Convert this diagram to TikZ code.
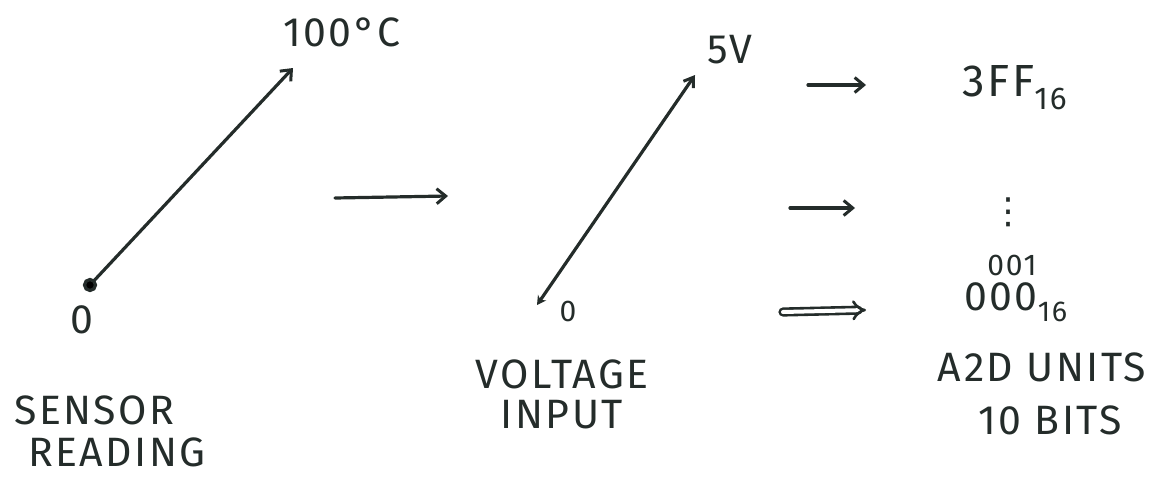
\documentclass[tikz,border=0pt]{standalone}
\usepackage{fontspec}
\setmainfont[LetterSpace=6]{Fira Sans}
\newfontfamily\symfont{DejaVu Sans}
\usetikzlibrary{arrows.meta}
\definecolor{ink}{RGB}{36,44,42}
\begin{document}
\begin{tikzpicture}[x=1pt,y=-1pt,
  ink/.style={draw=ink,line width=3.2pt,line cap=round},
  lbl/.style={text=ink,inner sep=0pt,font=\fontsize{41}{44}\selectfont},
  big/.style={text=ink,inner sep=0pt,font=\fontsize{45}{48}\selectfont},
  small/.style={text=ink,inner sep=0pt,font=\fontsize{30}{32}\selectfont},
  arr/.style={ink,-{Straight Barb[length=9pt,width=15pt,line width=3pt]}}]
\useasboundingbox (0,0) rectangle (1162,477);
% sensor scale
\coordinate (s0) at (90,285);
\coordinate (s1) at (293,68);
\draw[arr] (s0) -- (s1);
\fill[ink] (s0) circle (5.5pt);
\node[lbl] (t100) at (342,32) {100°C};
\node[lbl] (z1) at (82,320) {0};
\node[lbl,anchor=west] (sens1) at (14,410) {SENSOR};
\node[lbl,anchor=west] (sens2) at (28,452) {READING};
% arrow 1
\coordinate (a1s) at (335,198);
\coordinate (a1e) at (448,196);
\draw[arr] (a1s) -- (a1e);
% voltage scale
\coordinate (v0) at (537,305);
\coordinate (v1) at (695,75);
\draw[ink,{Stealth[length=9pt,width=10pt]}-{Straight Barb[length=9pt,width=12pt,line width=3pt]}] (v0) -- (v1);
\node[lbl] (v5) at (730,50) {5V};
\node[small] (z2) at (568,311) {0};
\node[lbl] (volt1) at (562,374) {VOLTAGE};
\node[lbl] (volt2) at (562,415) {INPUT};
% arrows to A2D
\coordinate (b1s) at (808,85);
\coordinate (b1e) at (866,85);
\coordinate (b2s) at (790,208);
\coordinate (b2e) at (855,208);
\coordinate (b3s) at (783,312);
\coordinate (b3e) at (866,310);
\draw[arr] (b1s) -- (b1e);
\draw[arr] (b2s) -- (b2e);
\draw[ink,double=white,double distance=4pt,line width=2.6pt,-{Implies[length=14pt]}] (b3s) -- (b3e);
% A2D values
\node[big,anchor=west] (h3ff) at (962,88) {3FF\textsubscript{16}};
\node[text=ink,inner sep=0pt,font=\symfont\fontsize{36}{40}\selectfont] (dots) at (1008,212) {⋮};
\node[small] (h001) at (1012,265) {001};
\node[lbl,anchor=west] (h000) at (964,302) {000\textsubscript{16}};
\node[lbl] (a2d1) at (1042,367) {A2D UNITS};
\node[lbl] (a2d2) at (1050,420) {10 BITS};
\end{tikzpicture}
\end{document}
